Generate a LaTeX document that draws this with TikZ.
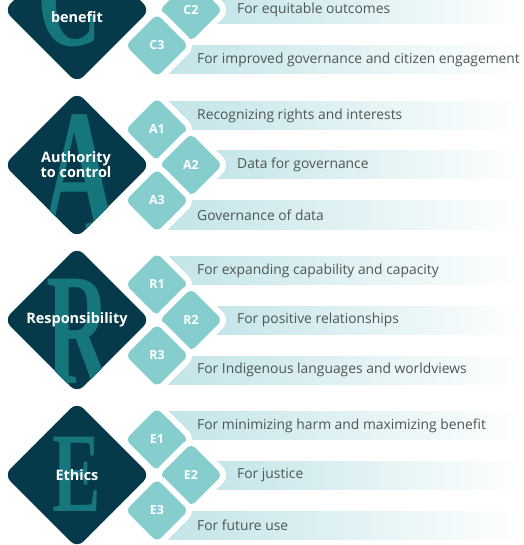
\documentclass[tikz,border=0pt]{standalone}
\usepackage{fontspec}
\setmainfont{Open Sans}
\newfontfamily\letterfont{Liberation Serif}
\usetikzlibrary{shapes.geometric}
\definecolor{darkd}{HTML}{063A4A}
\definecolor{lettc}{HTML}{16767D}
\definecolor{smallc}{HTML}{86CECE}
\definecolor{barc}{HTML}{C2E4E8}
\definecolor{labc}{HTML}{4F5557}
\newcommand\bigglyph[3]{\scalebox{#1}[#2]{\letterfont\bfseries\fontsize{10}{10}\selectfont #3}}
\tikzset{
  bigd/.style={shape=diamond, aspect=1, minimum size=146bp, inner sep=0pt,
    fill=darkd, rounded corners=9bp},
  bigtext/.style={text=white, align=center, inner sep=0pt,
    font=\fontsize{14.5}{15.5}\selectfont\bfseries},
  smalld/.style={shape=diamond, aspect=1, minimum size=63bp, inner sep=0pt,
    fill=smallc, rounded corners=6bp, text=white,
    font=\fontsize{12.5}{12.5}\selectfont\bfseries,
    preaction={draw=white, line width=12bp}},
  lab/.style={anchor=west, inner sep=0pt, text=labc, font=\fontsize{13.9}{13.9}\selectfont},
  bigletter/.style={inner sep=0pt, anchor=base, text=lettc}
}
\begin{document}
\begin{tikzpicture}[x=1bp, y=-1bp]
\useasboundingbox (0,0) rectangle (524,545);
\begin{scope}
\clip (0,0) rectangle (524,545);
% bars
\foreach \cy in {10,165,320,475}{
  \shade[left color=barc, right color=white] (165,\cy-63.5) rectangle (524,\cy-35.5);
  \shade[left color=barc, right color=white] (200,\cy-14) rectangle (524,\cy+14);
  \shade[left color=barc, right color=white] (165,\cy+36) rectangle (524,\cy+64);
}
% big diamonds with clipped letters
\node[bigd, path picture={\node[bigletter] at (-7,36) {\bigglyph{8.9}{15}{C}};}] (C) at (77,10) {};
\node[bigd, path picture={\node[bigletter] at (3,65) {\bigglyph{10.6}{17.6}{A}};}] (A) at (77,165) {};
\node[bigd, path picture={\node[bigletter] at (2,63) {\bigglyph{8.9}{16}{R}};}] (R) at (77,320) {};
\node[bigd, path picture={\node[bigletter] at (-0.5,36) {\bigglyph{7.3}{11.4}{E}};}] (E) at (77,475) {};
\node[bigtext] (Ct) at (77,17.5) {benefit};
\node[bigtext] (At) at (76,164.5) {Authority\\to control};
\node[bigtext] (Rt) at (77,320) {Responsibility};
\node[bigtext] (Et) at (77,475) {Ethics};
% small diamonds
\node[smalld] (C2) at (191,10) {C2};
\node[smalld] (C3) at (157,45.5) {C3};
\node[smalld] (A1) at (157,129.5) {A1};
\node[smalld] (A2) at (191,165) {A2};
\node[smalld] (A3) at (157,200.5) {A3};
\node[smalld] (R1) at (157,284.5) {R1};
\node[smalld] (R2) at (191,320) {R2};
\node[smalld] (R3) at (157,355.5) {R3};
\node[smalld] (E1) at (157,439.5) {E1};
\node[smalld] (E2) at (191,475) {E2};
\node[smalld] (E3) at (157,510.5) {E3};
% labels
\node[lab] (lC2) at (237,10) {For equitable outcomes};
\node[lab] (lC3) at (197,60) {For improved governance and citizen engagement};
\node[lab] (lA1) at (197,115.5) {Recognizing rights and interests};
\node[lab] (lA2) at (237,165) {Data for governance};
\node[lab] (lA3) at (197,215) {Governance of data};
\node[lab] (lR1) at (197,270.5) {For expanding capability and capacity};
\node[lab] (lR2) at (237,320) {For positive relationships};
\node[lab] (lR3) at (197,370) {For Indigenous languages and worldviews};
\node[lab] (lE1) at (197,425.5) {For minimizing harm and maximizing benefit};
\node[lab] (lE2) at (237,475) {For justice};
\node[lab] (lE3) at (197,525) {For future use};
\end{scope}
\end{tikzpicture}
\end{document}
